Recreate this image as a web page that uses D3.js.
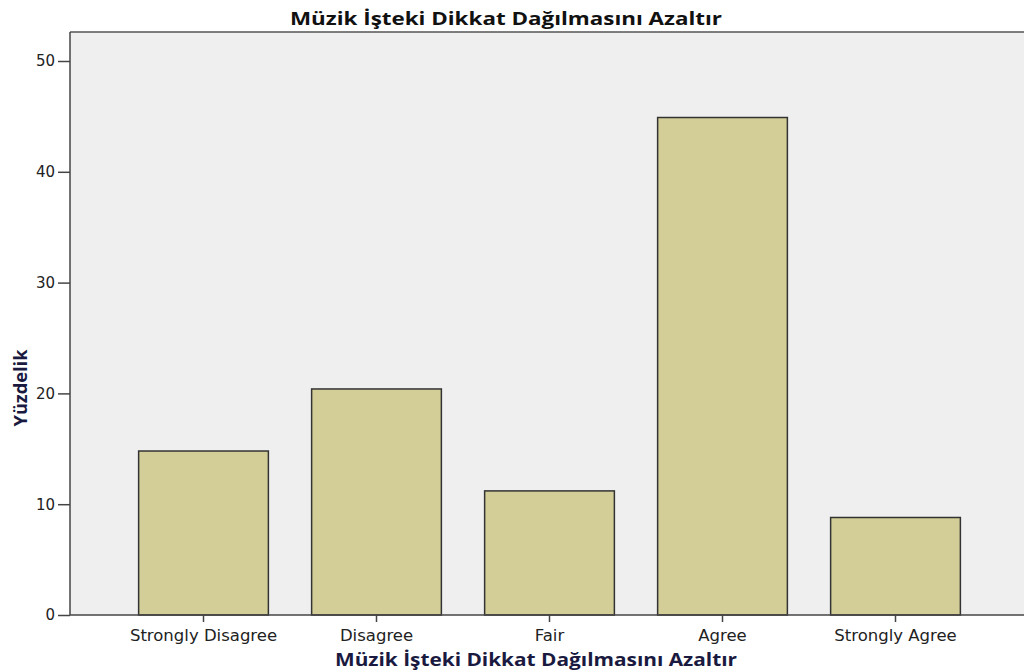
<!DOCTYPE html>
<html><head><meta charset="utf-8">
<script src="https://cdnjs.cloudflare.com/ajax/libs/d3/7.8.5/d3.min.js"></script>
<style>body{margin:0;background:#fff;} svg{display:block;}</style>
</head><body>
<svg id="c" width="1024" height="672"></svg>
<script>
const categories = ["Strongly Disagree","Disagree","Fair","Agree","Strongly Agree"];
const values = [14.8, 20.4, 11.2, 44.9, 8.8];
const yTicks = [0,10,20,30,40,50];
const title = "Müzik İşteki Dikkat Dağılmasını Azaltır";
const xTitle = "Müzik İşteki Dikkat Dağılmasını Azaltır";
const yTitle = "Yüzdelik";

const svg = d3.select("#c");
const plot = {left:70, top:32, right:1030, bottom:615};

svg.append("rect").attr("x",plot.left).attr("y",plot.top)
  .attr("width",plot.right-plot.left).attr("height",plot.bottom-plot.top)
  .attr("fill","#efefef");

const x = d3.scaleBand().domain(categories).range([117,982]).paddingInner(0.25).paddingOuter(0.125);
const y = d3.scaleLinear().domain([0,50]).range([615,61]);

svg.selectAll("rect.bar").data(values).enter().append("rect")
  .attr("class","bar")
  .attr("x",(d,i)=>x(categories[i]))
  .attr("y",d=>y(d))
  .attr("width",x.bandwidth())
  .attr("height",d=>y(0)-y(d))
  .attr("fill","#d3ce97").attr("stroke","#333").attr("stroke-width",1.5);

svg.append("line").attr("x1",plot.left).attr("x2",plot.right).attr("y1",plot.top).attr("y2",plot.top)
  .attr("stroke","#555").attr("stroke-width",1.5);

const tickFont = "DejaVu Sans, Verdana, sans-serif";
const yAxis = svg.append("g").attr("transform",`translate(${plot.left},0)`)
  .call(d3.axisLeft(y).tickValues(yTicks).tickSize(12).tickSizeOuter(0).tickPadding(3));
yAxis.select(".domain").attr("stroke","#444").attr("stroke-width",1.5).attr("d",`M0,${plot.top}V${plot.bottom}`);
yAxis.selectAll(".tick line").attr("stroke","#444").attr("stroke-width",1.5);
yAxis.selectAll("text").attr("font-family",tickFont).attr("font-size",15).attr("fill","#222");

const xAxis = svg.append("g").attr("transform",`translate(0,${plot.bottom})`)
  .call(d3.axisBottom(x).tickSize(7).tickSizeOuter(0).tickPadding(7));
xAxis.select(".domain").attr("stroke","#444").attr("stroke-width",1.5).attr("d",`M${plot.left},0H${plot.right}`);
xAxis.selectAll(".tick line").attr("stroke","#444").attr("stroke-width",1.5);
xAxis.selectAll("text").attr("font-family",tickFont).attr("font-size",16.5).attr("fill","#222");

const titleFont = "Open Sans, Lato, sans-serif";
svg.append("text").attr("x",506).attr("y",25).attr("text-anchor","middle")
  .attr("font-family",titleFont).attr("font-weight","bold").attr("font-size",18)
  .attr("textLength",432).attr("lengthAdjust","spacingAndGlyphs")
  .attr("fill","#111").text(title);
svg.append("text").attr("x",536).attr("y",666).attr("text-anchor","middle")
  .attr("font-family",titleFont).attr("font-weight","bold").attr("font-size",18)
  .attr("textLength",402).attr("lengthAdjust","spacingAndGlyphs")
  .attr("fill","#1a1a40").text(xTitle);
svg.append("text").attr("transform","translate(27,388) rotate(-90)").attr("text-anchor","middle")
  .attr("font-family",titleFont).attr("font-weight","bold").attr("font-size",18)
  .attr("textLength",77).attr("lengthAdjust","spacingAndGlyphs")
  .attr("fill","#1a1a40").text(yTitle);
</script>
</body></html>
